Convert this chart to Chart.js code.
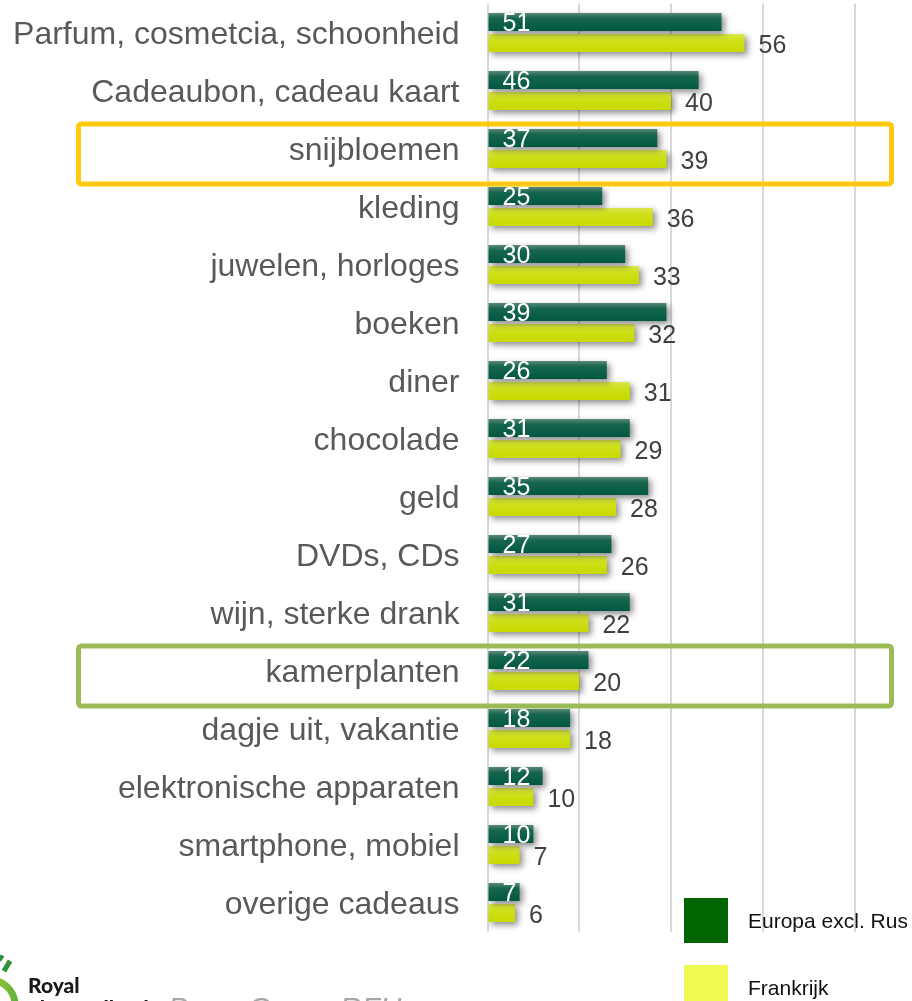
<!DOCTYPE html>
<html>
<head>
<meta charset="utf-8">
<script src="https://cdn.jsdelivr.net/npm/chart.js@4/dist/chart.umd.min.js"></script>
<style>
  html, body { margin: 0; padding: 0; background: #ffffff; overflow: hidden; }
  #wrap { position: relative; width: 912px; height: 1001px; }
</style>
</head>
<body>
<div id="wrap"><canvas id="c" width="912" height="1001"></canvas></div>
<script>
// Gift categories (top to bottom) and share of respondents per region, in %
const categories = [
  'Parfum, cosmetcia, schoonheid',
  'Cadeaubon, cadeau kaart',
  'snijbloemen',
  'kleding',
  'juwelen, horloges',
  'boeken',
  'diner',
  'chocolade',
  'geld',
  'DVDs, CDs',
  'wijn, sterke drank',
  'kamerplanten',
  'dagje uit, vakantie',
  'elektronische apparaten',
  'smartphone, mobiel',
  'overige cadeaus'
];
const europa    = [51, 46, 37, 25, 30, 39, 26, 31, 35, 27, 31, 22, 18, 12, 10, 7];
const frankrijk = [56, 40, 39, 36, 33, 32, 31, 29, 28, 26, 22, 20, 18, 10, 7, 6];
const seriesNames = ['Europa excl. Rus', 'Frankrijk'];
const xTicks = [0, 20, 40, 60, 80];
const highlighted = ['snijbloemen', 'kamerplanten'];
const sourceText = 'Bron: Groen RFH';

const FONT = "'Liberation Sans', Arial, sans-serif";
const CAT_PCT = 0.724;
const BAR_PCT = 0.857;

// Vertical gradient per bar, lighter along the top edge
function barFill(datasetIndex, stops, fallback) {
  return (c) => {
    const chart = c.chart;
    const ys = chart.scales && chart.scales.y;
    if (!chart.chartArea || !ys || c.type !== 'data') return fallback;
    const band = ys.height / categories.length;
    const slot = band * CAT_PCT / 2;
    const center = ys.getPixelForValue(c.dataIndex) + (datasetIndex === 0 ? -slot / 2 : slot / 2);
    const h = slot * BAR_PCT;
    const g = chart.ctx.createLinearGradient(0, center - h / 2, 0, center + h / 2);
    stops.forEach(([p, col]) => g.addColorStop(p, col));
    return g;
  };
}

const shadowPlugin = {
  id: 'barShadow',
  beforeDatasetsDraw(chart) {
    const ctx = chart.ctx;
    ctx.save();
    ctx.shadowColor = 'rgba(0,0,0,0.45)';
    ctx.shadowBlur = 6;
    ctx.shadowOffsetX = 3;
    ctx.shadowOffsetY = 3;
  },
  afterDatasetsDraw(chart) {
    chart.ctx.restore();
  }
};

const valueLabels = {
  id: 'valueLabels',
  afterDatasetsDraw(chart) {
    const ctx = chart.ctx;
    const x0 = chart.scales.x.getPixelForValue(0);
    ctx.save();
    ctx.font = '25px ' + FONT;
    ctx.textBaseline = 'middle';
    ctx.textAlign = 'left';
    chart.getDatasetMeta(0).data.forEach((bar, i) => {
      ctx.fillStyle = '#ffffff';
      ctx.fillText(String(europa[i]), x0 + 15, bar.y + 2);
    });
    chart.getDatasetMeta(1).data.forEach((bar, i) => {
      ctx.fillStyle = '#404040';
      ctx.fillText(String(frankrijk[i]), bar.x + 14, bar.y + 3.5);
    });
    ctx.restore();
  }
};

const decorations = {
  id: 'decorations',
  afterDraw(chart) {
    const ctx = chart.ctx;
    const ys = chart.scales.y;
    ctx.save();

    // highlight frames around the flower and plant categories
    const frameColors = ['#FFC90E', '#9BBB59'];
    highlighted.forEach((name, k) => {
      const cy = ys.getPixelForValue(categories.indexOf(name));
      ctx.strokeStyle = frameColors[k];
      ctx.lineWidth = 5;
      ctx.beginPath();
      ctx.roundRect(78.5, cy - 24.5, 813, 60, 3);
      ctx.stroke();
    });

    // legend
    const legendColors = ['#006400', '#EEFA50'];
    ctx.font = '21px ' + FONT;
    ctx.textAlign = 'left';
    ctx.textBaseline = 'alphabetic';
    seriesNames.forEach((name, k) => {
      const top = 898 + k * 67;
      ctx.fillStyle = legendColors[k];
      ctx.fillRect(684, top, 44, 45);
      ctx.fillStyle = '#111111';
      ctx.fillText(name, 748, top + 30);
    });

    // logo
    const ring = ctx.createLinearGradient(-30, 975, 20, 1001);
    ring.addColorStop(0, '#b5d334');
    ring.addColorStop(1, '#5fae3c');
    ctx.strokeStyle = ring;
    ctx.lineWidth = 7;
    ctx.beginPath();
    ctx.arc(-10, 1005, 25, Math.PI * 1.2, Math.PI * 2.1);
    ctx.stroke();
    ctx.fillStyle = '#2f8f3a';
    ctx.save();
    ctx.translate(7, 966);
    ctx.rotate(0.55);
    ctx.fillRect(-2.5, -6, 5, 12);
    ctx.restore();
    ctx.save();
    ctx.translate(1, 958);
    ctx.rotate(0.55);
    ctx.fillRect(-2, -3, 4, 6);
    ctx.restore();
    ctx.fillStyle = '#1a1a1a';
    ctx.font = "900 21px Lato, 'DejaVu Sans', sans-serif";
    ctx.fillText('Royal', 28, 993);
    ctx.fillText('FloraHolland', 28, 1016);

    // source line
    ctx.fillStyle = '#a6a6a6';
    ctx.font = 'italic 30px ' + FONT;
    ctx.fillText(sourceText, 168, 1018);

    ctx.restore();
  }
};

new Chart(document.getElementById('c'), {
  type: 'bar',
  data: {
    labels: categories,
    datasets: [
      {
        label: seriesNames[0],
        data: europa,
        backgroundColor: barFill(0, [[0, '#5b8878'], [0.3, '#17654f'], [1, '#005840']], '#005840'),
        borderWidth: 0
      },
      {
        label: seriesNames[1],
        data: frankrijk,
        backgroundColor: barFill(1, [[0, '#dbe64a'], [0.35, '#cfe01a'], [1, '#c6da00']], '#c8dc00'),
        borderWidth: 0
      }
    ]
  },
  options: {
    indexAxis: 'y',
    responsive: false,
    animation: false,
    categoryPercentage: CAT_PCT,
    barPercentage: BAR_PCT,
    layout: { padding: { left: 0, right: 0, top: 3.5, bottom: 69.5 } },
    plugins: { legend: { display: false }, tooltip: { enabled: false } },
    scales: {
      x: {
        min: 0,
        max: 92.5,
        afterBuildTicks: (s) => { s.ticks = xTicks.map(v => ({ value: v })); },
        afterFit: (s) => { s.height = 0; },
        ticks: { display: false },
        grid: { color: '#d9d9d9', lineWidth: 2, drawTicks: false },
        border: { display: false }
      },
      y: {
        afterFit: (s) => { s.width = 487.5; s.paddingTop = 0; s.paddingBottom = 0; },
        ticks: { font: { family: FONT, size: 32 }, color: '#595959', padding: 0, labelOffset: 2.5 },
        grid: { display: false, drawTicks: true, tickLength: 28 },
        border: { display: false }
      }
    }
  },
  plugins: [shadowPlugin, valueLabels, decorations]
});
</script>
</body>
</html>
